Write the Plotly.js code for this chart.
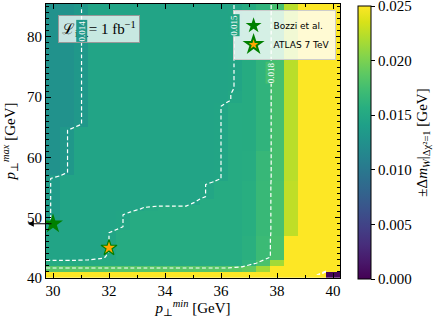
<!DOCTYPE html>
<html>
<head>
<meta charset="utf-8">
<script src="https://cdn.plot.ly/plotly-3.0.1.min.js"></script>
<style>html,body{margin:0;padding:0;background:#fff;}#chart{width:436px;height:318px;}</style>
</head>
<body>
<div id="chart"></div>
<script>
// p_T^min grid (cell centres of the colour map, GeV)
const ptMin = [30,30.5,31,31.5,32,32.5,33,33.5,34,34.5,35,35.5,36,36.5,37,37.5,38,38.5,39,39.5,40];
// p_T^min nodes used by the contour lines (registered half a cell to the left in the source figure)
const ptMinContour = [29.75,30.25,30.75,31.25,31.75,32.25,32.75,33.25,33.75,34.25,34.75,35.25,35.75,36.25,36.75,37.25,37.75,38.25,38.75,39.25,39.75];
// p_T^max grid (cell centres, GeV)
const ptMax = [40.5,41.5,42.5,43.5,44.5,45.5,46.5,47.5,48.5,49.5,50.5,51.5,52.5,53.5,54.5,55.5,56.5,57.5,58.5,59.5,
  60.5,61.5,62.5,63.5,64.5,65.5,66.5,67.5,68.5,69.5,70.5,71.5,72.5,73.5,74.5,75.5,76.5,77.5,78.5,79.5,
  80.5,81.5,82.5,83.5,84.5,85.5];
// ±Δm_W (GeV), one row per p_T^max cell
const deltaMW = [
 [0.027,0.027,0.027,0.027,0.027,0.027,0.027,0.027,0.027,0.027,0.027,0.027,0.027,0.027,0.027,0.027,0.027,0.027,0.027,0.027,0.0003],
 [0.0185,0.0185,0.0185,0.0185,0.0185,0.0185,0.0185,0.0185,0.0185,0.0185,0.0185,0.0185,0.0185,0.0185,0.019,0.0215,0.025,0.027,0.027,0.027,0.027],
 [0.0153,0.0153,0.0153,0.0153,0.0153,0.0153,0.0153,0.0153,0.0153,0.0153,0.0153,0.0153,0.0153,0.0153,0.0162,0.0178,0.0215,0.026,0.027,0.027,0.027],
 [0.0146,0.0146,0.0146,0.0147,0.0149,0.0153,0.0153,0.0153,0.0153,0.0153,0.0153,0.0153,0.0153,0.0153,0.0158,0.0170,0.0178,0.0255,0.027,0.027,0.027],
 [0.0146,0.0146,0.0146,0.0146,0.0147,0.0153,0.0153,0.0153,0.0153,0.0153,0.0153,0.0153,0.0153,0.0153,0.0158,0.0170,0.0178,0.0255,0.027,0.027,0.027],
 [0.0146,0.0146,0.0146,0.0146,0.0147,0.0153,0.0153,0.0153,0.0153,0.0153,0.0153,0.0153,0.0153,0.0153,0.0158,0.0170,0.0178,0.0255,0.027,0.027,0.027],
 [0.0146,0.0146,0.0146,0.0146,0.0147,0.0153,0.0153,0.0153,0.0153,0.0153,0.0153,0.0153,0.0153,0.0153,0.0158,0.0170,0.0178,0.0255,0.027,0.027,0.027],
 [0.0146,0.0146,0.0146,0.0146,0.0147,0.0153,0.0153,0.0153,0.0153,0.0153,0.0153,0.0153,0.0153,0.0153,0.0157,0.0168,0.0177,0.0226,0.027,0.027,0.027],
 [0.0146,0.0146,0.0146,0.0146,0.0146,0.0147,0.0153,0.0153,0.0153,0.0153,0.0153,0.0153,0.0153,0.0153,0.0157,0.0168,0.0177,0.0226,0.027,0.027,0.027],
 [0.0137,0.0146,0.0146,0.0146,0.0146,0.0147,0.0153,0.0153,0.0153,0.0153,0.0153,0.0153,0.0153,0.0153,0.0157,0.0168,0.0177,0.0226,0.027,0.027,0.027],
 [0.0137,0.0146,0.0146,0.0146,0.0146,0.0147,0.0153,0.0153,0.0153,0.0153,0.0153,0.0153,0.0153,0.0153,0.0157,0.0168,0.0177,0.0226,0.027,0.027,0.027],
 [0.0137,0.0146,0.0146,0.0146,0.0146,0.0146,0.0146,0.0151,0.0153,0.0153,0.0153,0.0153,0.0153,0.0153,0.0157,0.0168,0.0177,0.0226,0.027,0.027,0.027],
 [0.0137,0.0146,0.0146,0.0146,0.0146,0.0146,0.0146,0.0146,0.0146,0.0146,0.0146,0.0153,0.0153,0.0153,0.0157,0.0168,0.0177,0.0226,0.027,0.027,0.027],
 [0.0137,0.0146,0.0146,0.0146,0.0146,0.0146,0.0146,0.0146,0.0146,0.0146,0.0146,0.0148,0.0153,0.0153,0.0157,0.0168,0.0177,0.0226,0.027,0.027,0.027],
 [0.0137,0.0146,0.0146,0.0146,0.0146,0.0146,0.0146,0.0146,0.0146,0.0146,0.0146,0.0148,0.0153,0.0153,0.0157,0.0168,0.0177,0.0226,0.027,0.027,0.027],
 [0.0137,0.0146,0.0146,0.0146,0.0146,0.0146,0.0146,0.0146,0.0146,0.0146,0.0146,0.0148,0.0153,0.0153,0.0157,0.0168,0.0177,0.0226,0.027,0.027,0.027],
 [0.0137,0.0146,0.0146,0.0146,0.0146,0.0146,0.0146,0.0146,0.0146,0.0146,0.0146,0.0146,0.0147,0.0153,0.0155,0.0167,0.0176,0.0224,0.027,0.027,0.027],
 [0.0127,0.0133,0.0146,0.0146,0.0146,0.0146,0.0146,0.0146,0.0146,0.0146,0.0146,0.0146,0.0147,0.0153,0.0155,0.0167,0.0176,0.0224,0.027,0.027,0.027],
 [0.0127,0.0133,0.0146,0.0146,0.0146,0.0146,0.0146,0.0146,0.0146,0.0146,0.0146,0.0146,0.0147,0.0153,0.0155,0.0167,0.0176,0.0224,0.027,0.027,0.027],
 [0.0127,0.0133,0.0146,0.0146,0.0146,0.0146,0.0146,0.0146,0.0146,0.0146,0.0146,0.0146,0.0147,0.0153,0.0155,0.0167,0.0176,0.0224,0.027,0.027,0.027],
 [0.0127,0.0133,0.0146,0.0146,0.0146,0.0146,0.0146,0.0146,0.0146,0.0146,0.0146,0.0146,0.0147,0.0153,0.0155,0.0167,0.0176,0.0224,0.027,0.027,0.027],
 [0.0127,0.0133,0.0146,0.0146,0.0146,0.0146,0.0146,0.0146,0.0146,0.0146,0.0146,0.0146,0.0147,0.0153,0.0154,0.0162,0.0176,0.0224,0.027,0.027,0.027],
 [0.0127,0.0133,0.0146,0.0146,0.0146,0.0146,0.0146,0.0146,0.0146,0.0146,0.0146,0.0146,0.0147,0.0153,0.0154,0.0162,0.0176,0.0224,0.027,0.027,0.027],
 [0.0127,0.0133,0.0146,0.0146,0.0146,0.0146,0.0146,0.0146,0.0146,0.0146,0.0146,0.0146,0.0147,0.0153,0.0154,0.0162,0.0176,0.0224,0.027,0.027,0.027],
 [0.0127,0.0133,0.0146,0.0146,0.0146,0.0146,0.0146,0.0146,0.0146,0.0146,0.0146,0.0146,0.0147,0.0153,0.0154,0.0162,0.0176,0.0224,0.027,0.027,0.027],
 [0.0127,0.0127,0.0133,0.0146,0.0146,0.0146,0.0146,0.0146,0.0146,0.0146,0.0146,0.0146,0.0147,0.0153,0.0154,0.0162,0.0176,0.0224,0.027,0.027,0.027],
 [0.0127,0.0127,0.0133,0.0146,0.0146,0.0146,0.0146,0.0146,0.0146,0.0146,0.0146,0.0146,0.0147,0.0153,0.0154,0.0162,0.0176,0.0224,0.027,0.027,0.027],
 [0.0127,0.0127,0.0133,0.0146,0.0146,0.0146,0.0146,0.0146,0.0146,0.0146,0.0146,0.0146,0.0147,0.0153,0.0154,0.0162,0.0176,0.0224,0.027,0.027,0.027],
 [0.0127,0.0127,0.0133,0.0146,0.0146,0.0146,0.0146,0.0146,0.0146,0.0146,0.0146,0.0146,0.0147,0.0153,0.0154,0.0162,0.0176,0.0224,0.027,0.027,0.027],
 [0.0127,0.0127,0.0133,0.0146,0.0146,0.0146,0.0146,0.0146,0.0146,0.0146,0.0146,0.0146,0.0146,0.0149,0.0154,0.0162,0.0176,0.0224,0.027,0.027,0.027],
 [0.0127,0.0127,0.0133,0.0146,0.0146,0.0146,0.0146,0.0146,0.0146,0.0146,0.0146,0.0146,0.0146,0.0149,0.0154,0.0162,0.0176,0.0224,0.027,0.027,0.027],
 [0.0127,0.0127,0.0133,0.0146,0.0146,0.0146,0.0146,0.0146,0.0146,0.0146,0.0146,0.0146,0.0146,0.0147,0.0154,0.0162,0.0176,0.0224,0.027,0.027,0.027],
 [0.0127,0.0127,0.0133,0.0146,0.0146,0.0146,0.0146,0.0146,0.0146,0.0146,0.0146,0.0146,0.0146,0.0147,0.0154,0.0162,0.0176,0.0224,0.027,0.027,0.027],
 [0.0127,0.0127,0.0133,0.0146,0.0146,0.0146,0.0146,0.0146,0.0146,0.0146,0.0146,0.0146,0.0146,0.0147,0.0154,0.0162,0.0176,0.0224,0.027,0.027,0.027],
 [0.0127,0.0127,0.0133,0.0146,0.0146,0.0146,0.0146,0.0146,0.0146,0.0146,0.0146,0.0146,0.0146,0.0147,0.0154,0.0162,0.0176,0.0224,0.027,0.027,0.027],
 [0.0127,0.0127,0.0133,0.0146,0.0146,0.0146,0.0146,0.0146,0.0146,0.0146,0.0146,0.0146,0.0146,0.0147,0.0154,0.0162,0.0176,0.0224,0.027,0.027,0.027],
 [0.0127,0.0127,0.0133,0.0146,0.0146,0.0146,0.0146,0.0146,0.0146,0.0146,0.0146,0.0146,0.0146,0.0147,0.0154,0.0162,0.0176,0.0224,0.027,0.027,0.027],
 [0.0127,0.0127,0.0133,0.0146,0.0146,0.0146,0.0146,0.0146,0.0146,0.0146,0.0146,0.0146,0.0146,0.0147,0.0154,0.0162,0.0176,0.0224,0.027,0.027,0.027],
 [0.0127,0.0127,0.0133,0.0146,0.0146,0.0146,0.0146,0.0146,0.0146,0.0146,0.0146,0.0146,0.0146,0.0147,0.0154,0.0162,0.0176,0.0224,0.027,0.027,0.027],
 [0.0127,0.0127,0.0133,0.0146,0.0146,0.0146,0.0146,0.0146,0.0146,0.0146,0.0146,0.0146,0.0146,0.0147,0.0154,0.0162,0.0176,0.0224,0.027,0.027,0.027],
 [0.0127,0.0127,0.0133,0.0146,0.0146,0.0146,0.0146,0.0146,0.0146,0.0146,0.0146,0.0146,0.0146,0.0147,0.0154,0.0162,0.0176,0.0224,0.027,0.027,0.027],
 [0.0127,0.0127,0.0133,0.0146,0.0146,0.0146,0.0146,0.0146,0.0146,0.0146,0.0146,0.0146,0.0146,0.0147,0.0154,0.0162,0.0176,0.0224,0.027,0.027,0.027],
 [0.0127,0.0127,0.0133,0.0146,0.0146,0.0146,0.0146,0.0146,0.0146,0.0146,0.0146,0.0146,0.0146,0.0147,0.0154,0.0162,0.0176,0.0224,0.027,0.027,0.027],
 [0.0127,0.0127,0.0133,0.0146,0.0146,0.0146,0.0146,0.0146,0.0146,0.0146,0.0146,0.0146,0.0146,0.0147,0.0154,0.0162,0.0176,0.0224,0.027,0.027,0.027],
 [0.0127,0.0127,0.0133,0.0146,0.0146,0.0146,0.0146,0.0146,0.0146,0.0146,0.0146,0.0146,0.0146,0.0147,0.0154,0.0162,0.0176,0.0224,0.027,0.027,0.027],
 [0.0127,0.0127,0.0133,0.0146,0.0146,0.0146,0.0146,0.0146,0.0146,0.0146,0.0146,0.0146,0.0146,0.0147,0.0154,0.0162,0.0176,0.0224,0.027,0.027,0.027]
];
const contourLevels = [0.014, 0.015, 0.018];
// contour label placement (on the lines, near the top as in the source)
const labelText = ['0.014', '0.015', '0.018'];
const labelX = [31.02, 36.46, 37.79];
const labelY = [81, 82, 74];
const labelBg = ['rgb(32,152,138)', 'rgb(34,165,133)', 'rgb(70,191,111)'];

const colorTickVals = [0, 0.005, 0.01, 0.015, 0.02, 0.02499];
const colorTickText = ['0.000', '0.005', '0.010', '0.015', '0.020', '0.025'];

// reference points
const bozziX = [30], bozziY = [49];
const atlasX = [32], atlasY = [45];
const arrowTipX = 29.1;

const serif = 'Liberation Serif, DejaVu Serif, serif';

const traces = [{
  type: 'heatmap', x: ptMin, y: ptMax, z: deltaMW,
  colorscale: 'Viridis', zmin: 0, zmax: 0.025, zsmooth: false,
  hoverinfo: 'skip',
  colorbar: {
    thickness: 13, len: 273, lenmode: 'pixels', y: 0.9927, yanchor: 'top',
    x: 1.061, xanchor: 'left', xpad: 0, ypad: 0,
    outlinewidth: 1, outlinecolor: 'black',
    tickmode: 'array', tickvals: colorTickVals, ticktext: colorTickText,
    ticks: 'outside', ticklen: 4, tickcolor: 'black', ticklabeloverflow: 'allow',
    tickfont: {family: serif, size: 15, color: 'black'},
    title: {text: '±Δ<i>m</i><sub><i>W</i></sub>|<sub>Δχ²=1</sub> [GeV]', side: 'right',
            font: {family: serif, size: 15, color: 'black'}}
  }
}];

contourLevels.forEach(lv => traces.push({
  type: 'contour', x: ptMinContour, y: ptMax, z: deltaMW, autocontour: false,
  contours: {coloring: 'none', start: lv, end: lv, size: 0.001, showlabels: false},
  line: {color: 'white', width: 1.2, dash: '4px,2.5px', smoothing: 0},
  showscale: false, showlegend: false, hoverinfo: 'skip'
}));

traces.push({
  type: 'scatter', mode: 'markers', x: bozziX, y: bozziY, name: 'Bozzi et al.',
  marker: {symbol: 'star', size: 15, color: 'green', line: {width: 0}}
});
traces.push({
  type: 'scatter', mode: 'markers', x: atlasX, y: atlasY, name: 'ATLAS 7 TeV',
  marker: {symbol: 'star', size: 12, color: 'orange', line: {color: 'green', width: 1.2}}
});

const axisCommon = {
  showline: true, linecolor: 'black', linewidth: 1, mirror: 'allticks',
  ticks: 'inside', ticklen: 5, tickcolor: 'black', showgrid: false, zeroline: false,
  tickfont: {family: serif, size: 15, color: 'black'}
};

const annotations = [
  {xref: 'paper', yref: 'paper', x: 0.04, y: 0.96, xanchor: 'left', yanchor: 'top',
   text: 'ℒ<sub>int.</sub>= 1 fb<sup>−1</sup>', showarrow: false,
   bgcolor: 'rgba(255,255,255,0.75)', bordercolor: '#999999', borderwidth: 1, borderpad: 3,
   font: {family: serif, size: 15, color: 'black'}},
  {xref: 'x', yref: 'y', axref: 'x', ayref: 'y', x: arrowTipX, y: bozziY[0],
   ax: bozziX[0], ay: bozziY[0], text: '', showarrow: true, arrowhead: 2, arrowsize: 1,
   arrowwidth: 1.2, arrowcolor: 'black', standoff: 0, startstandoff: 0}
];
labelText.forEach((t, i) => annotations.push({
  xref: 'x', yref: 'y', x: labelX[i], y: labelY[i], text: t, showarrow: false,
  textangle: -90, bgcolor: labelBg[i], borderpad: 0,
  font: {family: serif, size: 9, color: 'white'}
}));

const layout = {
  width: 436, height: 318,
  margin: {l: 46, r: 94, t: 4, b: 40},
  paper_bgcolor: 'white', plot_bgcolor: 'white',
  xaxis: Object.assign({}, axisCommon, {
    range: [29.75, 40.25], tick0: 30, dtick: 2, ticklabelstandoff: -1,
    minor: {dtick: 1, ticks: 'inside', ticklen: 3, tickcolor: 'black', showgrid: false},
    title: {text: '<i>p</i><sub>⊥</sub><sup><i>min</i></sup> [GeV]', standoff: 0,
            font: {family: serif, size: 15, color: 'black'}}
  }),
  yaxis: Object.assign({}, axisCommon, {
    range: [40, 85.45], tick0: 40, dtick: 10,
    minor: {dtick: 1, ticks: 'inside', ticklen: 3, tickcolor: 'black', showgrid: false},
    title: {text: '<i>p</i><sub>⊥</sub><sup><i>max</i></sup> [GeV]', standoff: 9,
            font: {family: serif, size: 15, color: 'black'}}
  }),
  legend: {
    x: 0.985, y: 0.978, xanchor: 'right', yanchor: 'top',
    bgcolor: 'rgba(255,255,255,0.8)', bordercolor: '#cccccc', borderwidth: 1,
    font: {family: 'DejaVu Sans', size: 9, color: 'black'},
    tracegroupgap: 0, itemsizing: 'constant', itemwidth: 30
  },
  annotations: annotations,
  showlegend: true
};

Plotly.newPlot('chart', traces, layout, {staticPlot: true, displayModeBar: false});
</script>
</body>
</html>
